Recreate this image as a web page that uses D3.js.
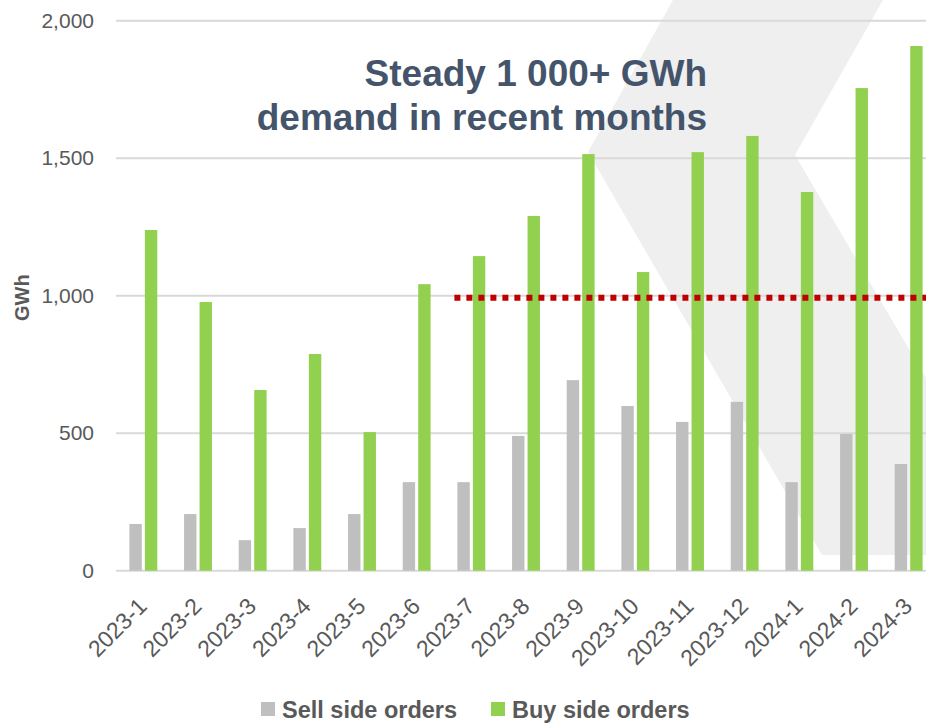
<!DOCTYPE html>
<html>
<head>
<meta charset="utf-8">
<script src="https://cdn.jsdelivr.net/npm/d3@7"></script>
<style>
  html, body { margin: 0; padding: 0; background: #fff; }
  svg { display: block; font-family: "Liberation Sans", Arial, sans-serif; }
</style>
</head>
<body>
<svg id="chart" width="926" height="723"></svg>
<script>
const categories = ["2023-1","2023-2","2023-3","2023-4","2023-5","2023-6","2023-7","2023-8","2023-9","2023-10","2023-11","2023-12","2024-1","2024-2","2024-3"];
const sellOrders = [170, 206, 111, 155, 206, 322, 322, 490, 693, 599, 541, 614, 322, 497, 388];
const buyOrders  = [1239, 977, 657, 788, 504, 1042, 1144, 1290, 1515, 1086, 1522, 1581, 1377, 1755, 1908];
const seriesNames = ["Sell side orders", "Buy side orders"];
const seriesColors = ["#bfbfbf", "#92d050"];
const yTicks = [0, 500, 1000, 1500, 2000];
const thresholdValue = 1000;
const thresholdStart = "2023-7";
const titleLines = ["Steady 1 000+ GWh", "demand in recent months"];
const yLabel = "GWh";

const W = 926, H = 723;
const margin = {left: 116, right: -10, top: 20.7, bottom: 152.3};
const svg = d3.select("#chart");

// decorative watermark chevron
const wm = [[673,0],[883,0],[795,155],[1030,555],[822,555],[588,152]];
svg.append("path")
  .attr("d", d3.line().curve(d3.curveLinearClosed)(wm))
  .attr("fill", "#efefef");

const x0 = d3.scaleBand().domain(categories)
  .range([margin.left, W - margin.right])
  .paddingInner(0.49).paddingOuter(0.245);
const x1 = d3.scaleBand().domain([0,1]).range([0, x0.bandwidth()]).paddingInner(0.2);
const y = d3.scaleLinear().domain([0, 2000]).range([H - margin.bottom, margin.top]);

// gridlines
svg.append("g").selectAll("line").data(yTicks).join("line")
  .attr("x1", margin.left).attr("x2", W)
  .attr("y1", d => y(d)).attr("y2", d => y(d))
  .attr("stroke", "#d9d9d9").attr("stroke-width", 2);

// y axis labels
const yAxis = d3.axisLeft(y).tickValues(yTicks).tickFormat(d3.format(",")).tickSize(0).tickPadding(0);
const yg = svg.append("g").attr("transform", `translate(${94},0)`).call(yAxis);
yg.select(".domain").remove();
yg.selectAll("text").attr("font-size", 21).attr("fill", "#595959")
  .attr("font-family", "Liberation Sans, Arial, sans-serif");

// y label
svg.append("text")
  .attr("transform", `translate(${29},${y(1000) + 2}) rotate(-90)`)
  .attr("text-anchor", "middle")
  .attr("font-size", 20).attr("font-weight", "bold").attr("fill", "#595959")
  .text(yLabel);

// bars
const rows = categories.map((c, i) => ({cat: c, vals: [sellOrders[i], buyOrders[i]]}));
const grp = svg.append("g").selectAll("g").data(rows).join("g")
  .attr("transform", d => `translate(${x0(d.cat)},0)`);
grp.selectAll("rect").data(d => d.vals.map((v, k) => ({v, k}))).join("rect")
  .attr("x", d => x1(d.k))
  .attr("width", x1.bandwidth())
  .attr("y", d => y(d.v))
  .attr("height", d => y(0) - y(d.v))
  .attr("fill", d => seriesColors[d.k]);

// x axis labels
const xAxis = d3.axisBottom(x0).tickSize(0).tickPadding(0);
const xg = svg.append("g").attr("transform", `translate(0,${y(0)})`).call(xAxis);
xg.select(".domain").remove();
xg.selectAll("text")
  .attr("font-size", 23).attr("fill", "#595959")
  .attr("font-family", "Liberation Sans, Arial, sans-serif")
  .attr("text-anchor", "end")
  .attr("dy", "0")
  .attr("transform", "translate(5,37) rotate(-45)");

// threshold dotted line
svg.append("line")
  .attr("x1", x0(thresholdStart) - 3).attr("x2", W)
  .attr("y1", y(thresholdValue) + 2).attr("y2", y(thresholdValue) + 2)
  .attr("stroke", "#c00000").attr("stroke-width", 6)
  .attr("stroke-dasharray", "6,6");

// title
const title = svg.append("text")
  .attr("text-anchor", "end")
  .attr("font-size", 37).attr("font-weight", "bold").attr("fill", "#44546a");
titleLines.forEach((t, i) => {
  title.append("tspan").attr("x", 707).attr("y", 86 + i * 44).text(t);
});

// legend
const leg = svg.append("g");
const legX = [261, 491];
seriesNames.forEach((n, i) => {
  leg.append("rect").attr("x", legX[i]).attr("y", 702).attr("width", 14).attr("height", 14)
    .attr("fill", seriesColors[i]);
  leg.append("text").attr("x", legX[i] + 21).attr("y", 718)
    .attr("font-size", 23.5).attr("font-weight", "bold").attr("fill", "#595959")
    .text(n);
});
</script>
</body>
</html>
